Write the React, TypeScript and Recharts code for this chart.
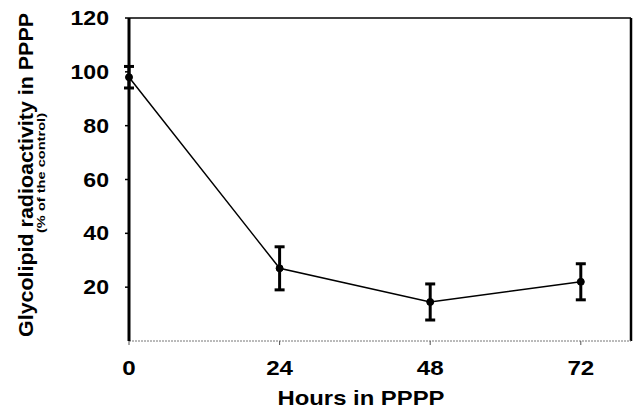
import { LineChart, Line, XAxis, YAxis, ErrorBar, ReferenceLine, Label } from "recharts"

const hours = [0, 24, 48, 72]
const radioactivity = [98, 27, 14.5, 22]
const errors = [4, 8, 6.7, 6.7]
const xTicks = [0, 24, 48, 72]
const yTicks = [20, 40, 60, 80, 100, 120]

const data = hours.map((h, i) => ({ h, value: radioactivity[i], err: errors[i] }))

const font = "'Liberation Sans', Arial, sans-serif"

// scanned figure is a bit wider than tall, so stretch tick text horizontally
const XTick = (props: any) => {
  const { x, y, payload } = props
  return (
    <text transform={`translate(${x},${y + 18}) scale(1.15,1)`} textAnchor="middle" fontFamily={font} fontWeight={700} fontSize={21} fill="#000">
      {payload.value}
    </text>
  )
}

const YTick = (props: any) => {
  const { x, y, payload } = props
  return (
    <text transform={`translate(${x - 3},${y + 7}) scale(1.1,1)`} textAnchor="end" fontFamily={font} fontWeight={700} fontSize={21} fill="#000">
      {payload.value}
    </text>
  )
}

export default function App() {
  return (
    <div style={{ position: "absolute", left: 0, top: 0, background: "#fff" }}>
      <LineChart width={633} height={410} data={data} margin={{ top: 18, right: 2, bottom: 19, left: 0 }}>
        <XAxis
          dataKey="h"
          type="number"
          domain={[0, 80]}
          ticks={xTicks}
          height={50}
          axisLine={{ stroke: "#777", strokeWidth: 1, strokeDasharray: "2 1" }}
          tickLine={{ stroke: "#555" }}
          tickSize={4}
          tickMargin={12}
          tick={<XTick />}
        >
          <Label
            content={() => (
              <text x={361} y={405} textAnchor="middle" fontFamily={font} fontWeight={700} fontSize={21} fill="#000" textLength={167} lengthAdjust="spacingAndGlyphs">
                Hours in PPPP
              </text>
            )}
          />
        </XAxis>
        <YAxis
          type="number"
          domain={[0, 120]}
          ticks={yTicks}
          width={129}
          axisLine={{ stroke: "#000", strokeWidth: 3 }}
          tickLine={{ stroke: "#000", strokeWidth: 1.5 }}
          tickSize={4}
          tickMargin={13}
          tick={<YTick />}
        >
          <Label
            content={() => (
              <g fontFamily={font} fontWeight={700} fill="#000">
                <text x={0} y={0} transform="translate(33,175) rotate(-90)" textAnchor="middle" fontSize={20} textLength={324} lengthAdjust="spacingAndGlyphs">
                  Glycolipid radioactivity in PPPP
                </text>
                <text x={0} y={0} transform="translate(45,173) rotate(-90)" textAnchor="middle" fontSize={11} textLength={120} lengthAdjust="spacingAndGlyphs">
                  (% of the control)
                </text>
              </g>
            )}
          />
        </YAxis>
        <ReferenceLine y={120} stroke="#000" strokeWidth={1.5} />
        <ReferenceLine x={80} stroke="#000" strokeWidth={2.5} />
        <Line
          dataKey="value"
          type="linear"
          stroke="#000"
          strokeWidth={1.5}
          dot={{ r: 3.5, fill: "#000", stroke: "#000", strokeWidth: 1 }}
          isAnimationActive={false}
        >
          <ErrorBar dataKey="err" direction="y" width={5} stroke="#000" strokeWidth={3} />
        </Line>
      </LineChart>
    </div>
  )
}
